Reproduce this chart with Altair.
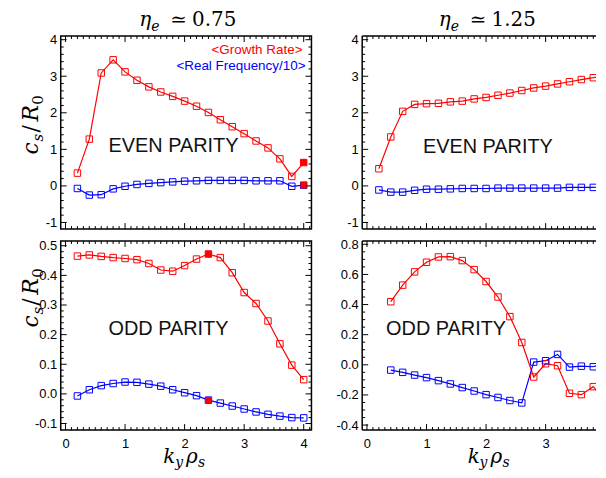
import altair as alt
import pandas as pd

# ---------------- data ----------------
k20 = [0.2, 0.4, 0.6, 0.8, 1.0, 1.2, 1.4, 1.6, 1.8, 2.0,
       2.2, 2.4, 2.6, 2.8, 3.0, 3.2, 3.4, 3.6, 3.8, 4.0]
k19 = [0.4, 0.6, 0.8, 1.0, 1.2, 1.4, 1.6, 1.8, 2.0,
       2.2, 2.4, 2.6, 2.8, 3.0, 3.2, 3.4, 3.6, 3.8, 4.0]

tl_growth = [0.35, 1.28, 3.09, 3.45, 3.12, 2.89, 2.71, 2.57, 2.45, 2.32,
             2.18, 2.01, 1.81, 1.62, 1.43, 1.23, 1.04, 0.74, 0.26, 0.64]
tl_freq = [-0.07, -0.25, -0.24, -0.08, -0.01, 0.04, 0.07, 0.09, 0.11, 0.13,
           0.14, 0.15, 0.15, 0.15, 0.15, 0.14, 0.14, 0.14, -0.01, 0.02]
tl_fill_k = [4.0, 4.0]
tl_fill_v = [0.64, 0.02]

tr_growth = [0.47, 1.34, 2.04, 2.23, 2.25, 2.26, 2.30, 2.32, 2.38, 2.42,
             2.48, 2.54, 2.61, 2.68, 2.73, 2.79, 2.85, 2.91, 2.96, 3.02]
tr_freq = [-0.11, -0.17, -0.17, -0.12, -0.09, -0.09, -0.08, -0.07, -0.07, -0.07,
           -0.06, -0.06, -0.06, -0.06, -0.06, -0.06, -0.04, -0.04, -0.04, -0.03]
tr_fill_k = [4.0]
tr_fill_v = [-0.03]

bl_growth = [0.465, 0.469, 0.464, 0.460, 0.457, 0.453, 0.440, 0.418, 0.414, 0.433,
             0.455, 0.472, 0.460, 0.409, 0.342, 0.305, 0.246, 0.169, 0.097, 0.048]
bl_freq = [-0.007, 0.014, 0.028, 0.035, 0.040, 0.039, 0.033, 0.026, 0.014, 0.004,
           -0.006, -0.021, -0.031, -0.041, -0.051, -0.061, -0.069, -0.075, -0.080, -0.081]
bl_fill_k = [2.4, 2.4]
bl_fill_v = [0.472, -0.021]

br_growth = [0.419, 0.529, 0.617, 0.681, 0.716, 0.718, 0.692, 0.632, 0.553, 0.450,
             0.320, 0.148, -0.081, 0.007, -0.006, -0.189, -0.198, -0.145, -0.240]
br_freq = [-0.035, -0.050, -0.068, -0.085, -0.105, -0.127, -0.151, -0.174, -0.198, -0.217,
           -0.237, -0.253, 0.018, 0.027, 0.069, -0.015, -0.009, -0.013, 0.014]

x_major = [0, 1, 2, 3, 4]
y_major_even = [-1, 0, 1, 2, 3, 4]
y_major_bl = [-0.1, 0.0, 0.1, 0.2, 0.3, 0.4, 0.5]
y_major_br = [-0.4, -0.2, 0.0, 0.2, 0.4, 0.6, 0.8]

# minor tick positions (axis decoration)
x_minor = [round(i * 0.1, 2) for i in range(0, 42) if i % 10 != 0]
y_minor_even = [round(-1 + i * 0.2, 2) for i in range(0, 26) if i % 5 != 0]
y_minor_bl = [round(-0.1 + i * 0.02, 3) for i in range(0, 31) if i % 5 != 0]
y_minor_br = [round(-0.4 + i * 0.05, 3) for i in range(0, 25) if i % 4 != 0]

PX_PER_UNIT = 252 / 4.21
XMIN = -0.08
W_L = 252
W_R = 235
H_TOP = 194
H_BOT = 190
SERIF = "DejaVu Serif"
SANS = "Liberation Sans"
RED = "#ff0000"
BLUE = "#0000ff"
MAJ = 6
MIN = 3

one = pd.DataFrame({"z": [0]})


def T(s, x, y, size, font=SERIF, style="italic", color="black",
      align="left", baseline="alphabetic", angle=0):
    return alt.Chart(one).mark_text(
        text=s, align=align, baseline=baseline, font=font, fontSize=size,
        fontStyle=style, color=color, angle=angle
    ).encode(x=alt.value(x), y=alt.value(y))


def label_expr(fmt):
    return ("datum.value < 0 ? '-' + format(-datum.value, '%s') : format(datum.value, '%s')"
            % (fmt, fmt))


def panel(kg, g, kf, f, fk, fv, ydom, w, h, ymaj, ymin, yfmt, xlabels, extras, right):
    xmax = XMIN + w / PX_PER_UNIT
    xs = alt.Scale(domain=[XMIN, xmax], nice=False, zero=False)
    ys = alt.Scale(domain=ydom, nice=False, zero=False)
    xmaj = [t for t in x_major if t <= xmax]
    xmin_t = [t for t in x_minor if t <= xmax]
    if xlabels:
        xaxis = alt.Axis(values=xmaj, labelExpr=label_expr("d"), title=None,
                         ticks=False, tickSize=0, domain=False, grid=False,
                         labelPadding=8, labelFont=SANS, labelFontSize=13,
                         labelColor="black")
    else:
        xaxis = None
    yaxis = alt.Axis(values=ymaj, labelExpr=label_expr(yfmt), title=None,
                     ticks=False, tickSize=0, domain=False, grid=False,
                     labelPadding=4, labelFont=SANS, labelFontSize=13,
                     labelColor="black", labelBaseline="middle")

    def X(field):
        return alt.X(field, type="quantitative", scale=xs, axis=xaxis)

    def Y(field):
        return alt.Y(field, type="quantitative", scale=ys, axis=yaxis)

    df = pd.concat([
        pd.DataFrame({"k": kg, "v": g, "s": "growth"}),
        pd.DataFrame({"k": kf, "v": f, "s": "freq"}),
    ])
    cs = alt.Scale(domain=["growth", "freq"], range=[RED, BLUE])
    base = alt.Chart(df)
    lines = base.mark_line(strokeWidth=1.2, clip=True).encode(
        x=X("k"), y=Y("v"), color=alt.Color("s:N", scale=cs, legend=None))
    pts = base.mark_point(shape="square", filled=False, size=42, strokeWidth=1,
                          opacity=1, clip=True).encode(
        x=X("k"), y=Y("v"), color=alt.Color("s:N", scale=cs, legend=None))
    layers = [lines, pts]
    if fk:
        fdf = pd.DataFrame({"k": fk, "v": fv})
        layers.append(alt.Chart(fdf).mark_square(size=42, color=RED, opacity=1, clip=True)
                      .encode(x=X("k"), y=Y("v")))

    # inward ticks
    def xt(vals, ln):
        d = alt.Chart(pd.DataFrame({"t": vals}))
        return [
            d.mark_rule(color="black", strokeWidth=1).encode(
                x=X("t"), y=alt.value(h), y2=alt.value(h - ln)),
            d.mark_rule(color="black", strokeWidth=1).encode(
                x=X("t"), y=alt.value(0), y2=alt.value(ln)),
        ]

    def yt(vals, ln):
        d = alt.Chart(pd.DataFrame({"t": vals}))
        out = [d.mark_rule(color="black", strokeWidth=1).encode(
            y=Y("t"), x=alt.value(0), x2=alt.value(ln))]
        if right:
            out.append(d.mark_rule(color="black", strokeWidth=1).encode(
                y=Y("t"), x=alt.value(w), x2=alt.value(w - ln)))
        return out

    layers += xt(xmaj, MAJ) + xt(xmin_t, MIN) + yt(ymaj, MAJ) + yt(ymin, MIN)

    if not right:
        # open frame: the right edge lies beyond the picture
        fr = alt.Chart(one)
        layers += [
            fr.mark_rule(color="black", strokeWidth=1.5).encode(
                x=alt.value(0), x2=alt.value(w), y=alt.value(0)),
            fr.mark_rule(color="black", strokeWidth=1.5).encode(
                x=alt.value(0), x2=alt.value(w), y=alt.value(h)),
            fr.mark_rule(color="black", strokeWidth=1.5).encode(
                x=alt.value(0), y=alt.value(0), y2=alt.value(h)),
        ]
    layers += extras
    ch = alt.layer(*layers).properties(width=w, height=h)
    if not right:
        ch = ch.properties(view=alt.ViewConfig(stroke="transparent"))
    return ch


def eta_title(x0, val):
    return [
        T("η", x0, -10, 20),
        T("e", x0 + 12, -5, 14),
        T("≃", x0 + 31, -10, 20, style="normal"),
        T(val, x0 + 53, -10, 20, style="normal"),
    ]


def ytitle(y0):
    return [
        T("c", -23, y0, 22, angle=270),
        T("s", -18, y0 - 13, 15, angle=270),
        T("/", -23, y0 - 22, 22, style="normal", angle=270),
        T("R", -23, y0 - 33, 22, angle=270),
        T("0", -18, y0 - 50, 15, style="normal", angle=270),
    ]


def xtitle(x0, h):
    return [
        T("k", x0, h + 33, 20),
        T("y", x0 + 12, h + 37, 14),
        T("ρ", x0 + 23, h + 33, 20),
        T("s", x0 + 35, h + 37, 14),
    ]


tl_extra = (eta_title(79, "0.75") + ytitle(119) + [
    T("<Growth Rate>", 243, 14, 13.5, font=SANS, style="normal", color=RED,
      align="right", baseline="middle"),
    T("<Real Frequency/10>", 246, 30, 13.5, font=SANS, style="normal", color=BLUE,
      align="right", baseline="middle"),
    T("EVEN PARITY", 48, 111, 20, font=SANS, style="normal", color="#111",
      baseline="middle"),
])
tr_extra = eta_title(77, "1.25") + [
    T("EVEN PARITY", 61, 112, 20, font=SANS, style="normal", color="#111",
      baseline="middle"),
]
bl_extra = ytitle(87) + xtitle(103, H_BOT) + [
    T("ODD PARITY", 48, 88, 20, font=SANS, style="normal", color="#111",
      baseline="middle"),
]
br_extra = xtitle(106, H_BOT) + [
    T("ODD PARITY", 24, 88, 20, font=SANS, style="normal", color="#111",
      baseline="middle"),
]

TL = panel(k20, tl_growth, k20, tl_freq, tl_fill_k, tl_fill_v, [-1.18, 4.1], W_L, H_TOP,
           y_major_even, y_minor_even, "d", False, tl_extra, True)
TR = panel(k20, tr_growth, k20, tr_freq, tr_fill_k, tr_fill_v, [-1.18, 4.1], W_R, H_TOP,
           y_major_even, y_minor_even, "d", False, tr_extra, False)
BL = panel(k20, bl_growth, k20, bl_freq, bl_fill_k, bl_fill_v, [-0.122, 0.516], W_L, H_BOT,
           y_major_bl, y_minor_bl, ".1f", True, bl_extra, True)
BR = panel(k19, br_growth, k19, br_freq, [], [], [-0.433, 0.822], W_R, H_BOT,
           y_major_br, y_minor_br, ".1f", True, br_extra, False)

chart = alt.concat(TL, TR, BL, BR, columns=2, spacing={"row": 12, "column": 51},
                   bounds="flush").resolve_scale(
    x="independent", y="independent"
).properties(
    padding={"left": 11, "top": 0, "right": 0, "bottom": 0}
).configure_view(stroke="black", strokeWidth=1.5)

chart.save("out.html", embed_options={"renderer": "svg", "actions": False})
